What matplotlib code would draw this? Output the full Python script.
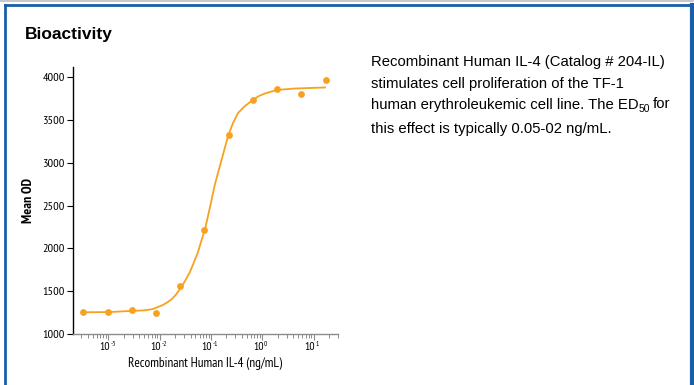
import matplotlib
matplotlib.use("Agg")
import matplotlib.pyplot as plt
from matplotlib.ticker import LogLocator, FixedLocator, NullFormatter
from matplotlib.patches import Rectangle
from matplotlib.lines import Line2D
from matplotlib.transforms import offset_copy

# measured points (ng/mL, mean OD)
conc = [3.26e-4, 9.7e-4, 2.86e-3, 8.4e-3, 0.025, 0.074, 0.225, 0.65, 1.95, 5.8, 17.3]
od = [1255, 1255, 1280, 1245, 1565, 2215, 3330, 3740, 3860, 3810, 3970]

# fitted curve
fit_x = [3.2e-4, 1.08e-3, 2.65e-3, 5.19e-3, 7.4e-3, 9.31e-3, 0.0116, 0.01393, 0.0174,
         0.0209, 0.025, 0.0313, 0.039, 0.0469, 0.056, 0.0641, 0.077, 0.096, 0.120,
         0.165, 0.216, 0.270, 0.338, 0.462, 0.662, 0.867, 1.13, 1.95, 4.37, 16.8]
fit_y = [1254, 1257, 1269, 1277, 1292, 1316, 1339, 1368, 1409,
         1462, 1526, 1620, 1725, 1842, 1959, 2076, 2228, 2485, 2754,
         3058, 3316, 3468, 3585, 3667, 3737, 3784, 3813, 3854, 3871, 3883]

yticks = [1000, 1500, 2000, 2500, 3000, 3500, 4000]
xticks = [1e-3, 1e-2, 1e-1, 1e0, 1e1]
xexps = ['-3', '-2', '-1', '0', '1']

desc_lines = ['Recombinant Human IL-4 (Catalog # 204-IL)',
              'stimulates cell proliferation of the TF-1',
              'human erythroleukemic cell line. The ED',
              'this effect is typically 0.05-02 ng/mL.']

narrow = ['PT Sans Narrow', 'DejaVu Sans']
sans = ['Liberation Sans', 'DejaVu Sans']

orange = '#F7A21F'
blue = '#1A5EA8'
grey = '#8C8C8C'

fig = plt.figure(figsize=(6.94, 3.85), dpi=100)

# frame around the panel
fig.add_artist(Rectangle((0, 1 - 2 / 385), 1, 2 / 385, transform=fig.transFigure,
                         facecolor='#C8C8C8', edgecolor='none'))
fig.add_artist(Line2D([5 / 694, 690 / 694], [1 - 4.5 / 385] * 2, transform=fig.transFigure,
                      color=blue, lw=2))
fig.add_artist(Line2D([5 / 694] * 2, [0, 1 - 4.5 / 385], transform=fig.transFigure,
                      color=blue, lw=2))
fig.add_artist(Line2D([691.5 / 694] * 2, [0, 1 - 4.5 / 385], transform=fig.transFigure,
                      color=blue, lw=3))

fig.text(25 / 694, 1 - 34 / 385, 'Bioactivity', fontsize=12.5, fontweight='bold',
         family=sans, va='center', ha='left')

ax = fig.add_axes([73 / 694, 1 - 334 / 385, 265 / 694, (334 - 66.7) / 385])
ax.set_xscale('log')
ax.plot(fit_x, fit_y, color=orange, lw=1.3, zorder=2, solid_joinstyle='round')
ax.scatter(conc, od, s=24, color=orange, zorder=3, linewidths=0)

ax.set_xlim(2.05e-4, 30)
ax.set_ylim(1000, 4126)
ax.spines['top'].set_visible(False)
ax.spines['right'].set_visible(False)
ax.spines['left'].set_linewidth(1.0)
ax.spines['bottom'].set_color(grey)
ax.spines['bottom'].set_linewidth(1.0)

ax.yaxis.set_major_locator(FixedLocator(yticks))
ax.set_yticklabels([str(v) for v in yticks], family=narrow, fontsize=8.8)
ax.tick_params(axis='y', direction='out', length=4, width=0.8, pad=2)

ax.xaxis.set_major_locator(FixedLocator(xticks))
ax.xaxis.set_minor_locator(LogLocator(base=10, subs=range(2, 10), numticks=20))
ax.xaxis.set_major_formatter(NullFormatter())
ax.xaxis.set_minor_formatter(NullFormatter())
ax.tick_params(axis='x', which='major', direction='out', length=4, width=0.8, color=grey)
ax.tick_params(axis='x', which='minor', direction='out', length=3, width=0.7, color=grey)

# decade labels: "10" with a small raised exponent
xtr = ax.get_xaxis_transform()
for v, e in zip(xticks, xexps):
    ax.text(v, 0, '10', transform=offset_copy(xtr, fig=fig, x=1.5, y=-8, units='dots'),
            ha='right', va='top', family=narrow, fontsize=8.5, clip_on=False)
    ax.text(v, 0, e, transform=offset_copy(xtr, fig=fig, x=2, y=-7, units='dots'),
            ha='left', va='top', family=narrow, fontsize=5.2, clip_on=False)

ax.set_ylabel('Mean OD', family=narrow, fontsize=10, fontweight='bold', labelpad=5)
ax.set_xlabel('Recombinant Human IL-4 (ng/mL)', family=narrow, fontsize=9.5, labelpad=9)

# description text, one line at a time
baselines = [66, 88, 108.5, 133]
tx = 371 / 694
for line, yb in zip(desc_lines, baselines):
    fig.text(tx, 1 - yb / 385, line, fontsize=10.7, family=sans, va='baseline', ha='left')

renderer = fig.canvas.get_renderer()
bb = fig.texts[-2].get_window_extent(renderer)
sub = fig.text((bb.x1 - 0.5) / 694, 1 - (baselines[2] + 4) / 385, '50', fontsize=7.5,
               family=sans, va='baseline', ha='left')
bb2 = sub.get_window_extent(renderer)
fig.text((bb2.x1 + 3) / 694, 1 - baselines[2] / 385, 'for', fontsize=10.7, family=sans,
         va='baseline', ha='left')

fig.savefig('out.png', dpi=100)
